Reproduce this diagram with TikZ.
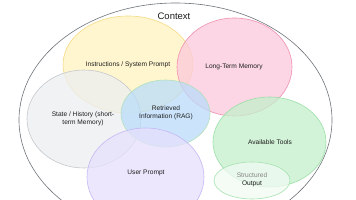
\documentclass[tikz,border=0pt]{standalone}
\usepackage{fontspec}
\setmainfont{Liberation Sans}
\definecolor{ink}{HTML}{1E1E1E}
\definecolor{ctxline}{HTML}{6E747A}
\definecolor{yelF}{HTML}{FFF3BF}\definecolor{yelD}{HTML}{F4D77A}
\definecolor{pinkF}{HTML}{FCC9DC}\definecolor{pinkD}{HTML}{EE86A8}
\definecolor{grayF}{HTML}{EDEEF1}\definecolor{grayD}{HTML}{BFC4C9}
\definecolor{blueF}{HTML}{BADCFA}\definecolor{blueD}{HTML}{AEE0B4}
\definecolor{purF}{HTML}{E6E0FD}\definecolor{purD}{HTML}{C3B2F5}
\definecolor{grnF}{HTML}{C3F0CB}\definecolor{grnD}{HTML}{93DDA0}
\definecolor{strF}{HTML}{F2FBF3}\definecolor{strD}{HTML}{9FE0AA}
\tikzset{
  blob/.style={line width=0.6pt, fill opacity=0.75, draw opacity=0.9},
  lbl/.style={text=ink, font=\fontsize{6.6}{7.6}\selectfont, align=center, inner sep=0pt}
}
\begin{document}
\begin{tikzpicture}[x=1pt,y=-1pt]
\useasboundingbox (0,0) rectangle (356,200);
\clip (0,0) rectangle (356,200);
\fill[white] (0,0) rectangle (356,200);
\draw[ctxline, line width=0.6pt] (175.5,120) ellipse [x radius=156.5, y radius=117];
\node[lbl, font=\fontsize{9.5}{11}\selectfont] (ctx) at (174,16) {Context};
% ellipses
\draw[blob, fill=yelF, draw=yelD] (128,64.5) ellipse [x radius=65, y radius=48.5];
\draw[blob, fill=pinkF, draw=pinkD] (234.5,67) ellipse [x radius=57.5, y radius=49];
\draw[blob, fill=grayF, draw=grayD] (84,119) ellipse [x radius=57, y radius=49];
\draw[blob, fill=blueF, draw=blueD] (165.5,113.5) ellipse [x radius=44.5, y radius=33.5];
\draw[blob, fill=purF, draw=purD] (145.5,177) ellipse [x radius=58.5, y radius=49];
\draw[blob, fill=grnF, draw=grnD] (269.5,142) ellipse [x radius=56.5, y radius=45];
\draw[blob, fill=strF, draw=strD] (252,180.5) ellipse [x radius=38, y radius=18.5];
% labels
\node[lbl] (instr) at (128,65) {Instructions / System Prompt};
\node[lbl] (ltm) at (234,67) {Long-Term Memory};
\node[lbl] (state) at (83,118.5) {State / History (short-\\term Memory)};
\node[lbl] (rag) at (166,113) {Retrieved\\Information (RAG)};
\node[lbl] (user) at (146,173) {User Prompt};
\node[lbl] (tools) at (270,142) {Available Tools};
\node[lbl] (struct) at (252,180) {\textcolor{ink!55}{Structured}\\Output};
\end{tikzpicture}
\end{document}
